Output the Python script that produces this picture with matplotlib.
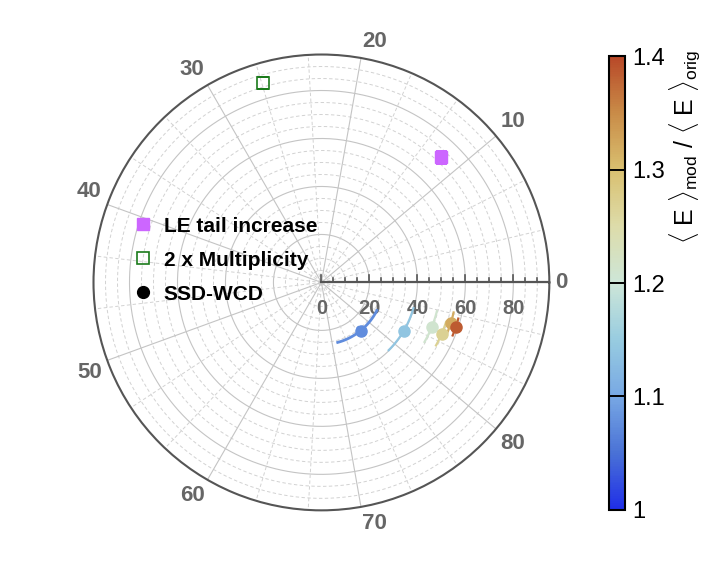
import numpy as np
import matplotlib
matplotlib.use('Agg')
import matplotlib.pyplot as plt
from matplotlib.colors import LinearSegmentedColormap, Normalize
from matplotlib.cm import ScalarMappable
from matplotlib.lines import Line2D

plt.rcParams['font.family'] = ['Liberation Sans', 'DejaVu Sans']
plt.rcParams['mathtext.fontset'] = 'custom'
plt.rcParams['mathtext.rm'] = 'Liberation Sans'
plt.rcParams['mathtext.it'] = 'Liberation Sans:italic'

# SSD-WCD points (angle in axis units, radius, errors, colour value)
ssd_ang = [77.3, 82.4, 84.5, 84.2, 85.7, 85.4]
ssd_r = [25.9, 39.8, 49.6, 54.5, 56.5, 59.0]
ssd_ang_err = [6.0, 3.7, 2.0, 1.4, 1.1, 0.9]
ssd_r_err = [1.6, 1.0, 0.8, 0.8, 0.8, 0.8]
ssd_ratio = [1.075, 1.14, 1.21, 1.27, 1.32, 1.385]

le_ang = [11.6]
le_r = [72.0]
mult_ang = [26.6]
mult_r = [86.8]

ang_labels = [0, 10, 20, 30, 40, 50, 60, 70, 80]
r_labels = [0, 20, 40, 60, 80]
cbar_ticks = [1.0, 1.1, 1.2, 1.3, 1.4]
cbar_ticklabels = ['1', '1.1', '1.2', '1.3', '1.4']

RMAX = 95.0
DEG_PER_UNIT = 4.0


def th(v):
    return np.deg2rad(np.asarray(v, dtype=float) * DEG_PER_UNIT)


def to_polar(x, y):
    return np.arctan2(y, x), np.hypot(x, y)


cmap = LinearSegmentedColormap.from_list('ratio', [
    (0.000, '#1f2ee8'), (0.125, '#4a72d6'), (0.25, '#78a8e4'),
    (0.375, '#98cce0'), (0.5, '#cde6d8'), (0.625, '#dddcaa'),
    (0.75, '#d9c070'), (0.875, '#c98c48'), (1.0, '#b84828')])
norm = Normalize(1.0, 1.4)

fig = plt.figure(figsize=(7.1, 5.66), dpi=100)
ax = fig.add_axes([0.1317, 0.098, 0.642, 0.806], projection='polar')
ax.set_ylim(0, RMAX)
ax.set_xticks([])
ax.set_yticks([])
ax.grid(False)
ax.spines['polar'].set_color('#555555')
ax.spines['polar'].set_linewidth(1.5)

# grid
full = np.linspace(0, 2 * np.pi, 400)
for rr in np.arange(5, 95, 5):
    if rr % 20 == 0:
        ax.plot(full, np.full_like(full, rr), color='#c4c4c4', lw=0.8, zorder=1)
    else:
        ax.plot(full, np.full_like(full, rr), color='#d2d2d2', lw=0.7, ls=(0, (3.5, 2.5)), zorder=1)
for k in range(27):
    a = np.deg2rad(k * 40 / 3)
    if k % 3 == 0:
        ax.plot([a, a], [0, RMAX], color='#c4c4c4', lw=0.8, zorder=1)
    else:
        ax.plot([a, a], [0, RMAX], color='#d2d2d2', lw=0.7, ls=(0, (3.5, 2.5)), zorder=1)

# radial axis along angle 0
ax.plot([0, 0], [0, RMAX], color='#555555', lw=1.6, zorder=3)
px = 2.4  # pixels per unit
for tv in np.arange(0, 95, 5):
    h = (7 if tv % 20 == 0 else 4) / px
    t1, r1 = to_polar(tv, 0.001)
    t2, r2 = to_polar(tv, h)
    ax.plot([t1, t2], [r1, r2], color='#555555', lw=1.2, zorder=3, clip_on=False)
for tv in r_labels:
    t, r = to_polar(tv, -26 / px)
    ax.text(t, r, str(tv), ha='center', va='center', fontsize=14.5,
            fontweight='bold', color='#666666')

# angular labels, aligned away from the circle
for v in ang_labels:
    a = th(v)
    c, s = np.cos(a), np.sin(a)
    ha = 'left' if c > 0.1 else ('right' if c < -0.1 else 'center')
    va = 'bottom' if s > 0.1 else ('top' if s < -0.1 else 'center')
    ax.text(a, 97.5, str(v), ha=ha, va=va, fontsize=16,
            fontweight='bold', color='#666666', clip_on=False)

# SSD-WCD points with error bars
for a, r, ea, er, c in zip(ssd_ang, ssd_r, ssd_ang_err, ssd_r_err, ssd_ratio):
    col = cmap(norm(c))
    arc = np.linspace(th(a - ea), th(a + ea), 50)
    lw = 2.0 if ea > 5 else 1.6
    ax.plot(arc, np.full_like(arc, r), color=col, lw=lw, zorder=4)
    ax.plot([th(a), th(a)], [r - er, r + er], color=col, lw=lw, zorder=4)
    ax.plot(th(a), r, 'o', color=col, ms=8, mec=col, zorder=5)

ax.plot(th(le_ang), le_r, 's', color='#cc66ff', mec='#cc66ff', ms=8, zorder=5)
ax.plot(th(mult_ang), mult_r, 's', mfc='none', mec='#1a7a1a', mew=1.2, ms=8, zorder=5)

handles = [
    Line2D([], [], ls='none', marker='s', color='#cc66ff', ms=8.5),
    Line2D([], [], ls='none', marker='s', mfc='none', mec='#1a7a1a', mew=1.2, ms=8.5),
    Line2D([], [], ls='none', marker='o', color='black', ms=8.5),
]
fig.legend(handles, ['LE tail increase', '2 x Multiplicity', 'SSD-WCD'],
           loc='upper left', bbox_to_anchor=(0.175, 0.632), frameon=False,
           prop={'weight': 'bold', 'size': 15}, handlelength=1.0,
           handletextpad=0.5, labelspacing=0.72, borderaxespad=0)

# colorbar
cax = fig.add_axes([0.858, 0.099, 0.0225, 0.802])
cb = fig.colorbar(ScalarMappable(norm=norm, cmap=cmap), cax=cax, ticks=cbar_ticks)
cb.set_ticklabels(cbar_ticklabels)
cb.outline.set_linewidth(1.5)
cb.outline.set_edgecolor('black')
cax.tick_params(direction='in', length=11.5, width=1.4, color='black',
                labelsize=17, pad=5)
cax.yaxis.set_ticks_position('right')
fig.text(0.966, 0.912,
         r'$\langle$ E $\rangle_{\mathrm{mod}}$ / $\langle$ E $\rangle_{\mathrm{orig}}$',
         rotation=90, ha='center', va='top', fontsize=18)

fig.savefig('out.png', dpi=100)
